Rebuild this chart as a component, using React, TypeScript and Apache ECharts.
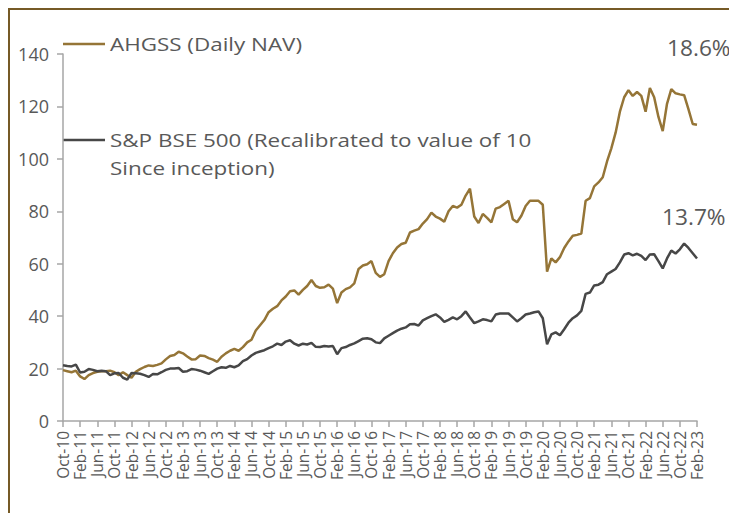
import React, { useEffect, useRef } from "react";
import * as echarts from "echarts";

const startYear = 2010;
const startMonth = 9; // Oct (0-based)
const monthNames = ["Jan", "Feb", "Mar", "Apr", "May", "Jun", "Jul", "Aug", "Sep", "Oct", "Nov", "Dec"];

const ahgss = [
  19.4, 19, 18.6, 19.2, 17, 16, 17.5, 18.3, 18.8, 19, 19, 19.2, 18.6, 17.5, 18.6, 17.5, 16.5, 18.8, 19.8, 20.6,
  21.2, 21, 21.4, 22, 23.5, 24.8, 25.2, 26.4, 25.8, 24.6, 23.5, 23.6, 25, 24.8, 24, 23.4, 22.6, 24.5, 25.8, 26.8,
  27.5, 26.8, 28.2, 30, 31, 34.5, 36.5, 38.5, 41.5, 42.8, 43.8, 46, 47.5, 49.5, 49.8, 48.2, 50, 51.5, 53.8, 51.5,
  50.8, 51, 52, 50.5, 45, 49, 50.3, 51, 52.5, 58, 59.3, 59.8, 61, 56.5, 55, 56, 61, 64, 66.2, 67.5,
  68, 71.9, 72.6, 73.2, 75.3, 77, 79.5, 78, 77.2, 76, 80, 82, 81.4, 82.5, 86, 88.6, 78, 75.5, 79, 77.5,
  75.8, 81, 81.6, 82.8, 84, 77, 75.8, 78.3, 82, 84, 84, 84, 82.5, 57, 62, 60.5, 62.5, 66, 68.5, 70.7,
  71, 71.5, 84, 85, 89.5, 91, 93, 99, 104, 110, 118, 123.5, 126.2, 124, 125.5, 124, 118, 127, 123.5, 116,
  110.6, 121, 126.6, 125, 124.6, 124.3, 119, 113.3, 113,
];

const bse500 = [
  21.3, 21, 20.8, 21.5, 18.5, 18.8, 19.8, 19.5, 19, 19.2, 19, 17.5, 18.2, 18.3, 16.5, 15.8, 18.3, 18.2, 18, 17.5,
  16.8, 17.9, 17.8, 18.6, 19.5, 20, 20, 20.2, 18.8, 19, 19.8, 19.6, 19.2, 18.6, 18, 19, 20, 20.5, 20.3, 21,
  20.5, 21.2, 22.8, 23.6, 25, 26, 26.5, 27, 27.8, 28.5, 29.5, 29, 30.3, 30.8, 29.5, 28.8, 29.5, 29.2, 29.8, 28.3,
  28.2, 28.6, 28.4, 28.6, 25.5, 27.8, 28.2, 29, 29.6, 30.5, 31.4, 31.6, 31.2, 30, 29.7, 31.5, 32.5, 33.5, 34.5, 35.2,
  35.7, 36.9, 37, 36.4, 38.4, 39.2, 40, 40.7, 39.5, 37.8, 38.6, 39.5, 38.8, 40, 41.8, 39.5, 37.3, 38, 38.8, 38.5,
  38, 40.6, 41, 41, 41, 39.5, 38, 39.2, 40.6, 41, 41.5, 41.8, 39.2, 29.3, 33, 33.8, 32.7, 35, 37.5, 39.2,
  40.3, 42, 48.5, 49, 51.7, 52, 53, 56, 57, 58, 60.5, 63.5, 64, 63.2, 63.8, 63, 61.4, 63.5, 63.6, 61,
  58.2, 62, 65, 63.9, 65.5, 67.7, 66, 64, 62,
];

const months: string[] = ahgss.map((_, i) => {
  const m = startMonth + i;
  const y = startYear + Math.floor(m / 12);
  return monthNames[m % 12] + "-" + String(y % 100).padStart(2, "0");
});

const yTicks = [0, 20, 40, 60, 80, 100, 120, 140];
const seriesNames = ["AHGSS (Daily NAV)", "S&P BSE 500 (Recalibrated to value of 10", "Since inception)"];
const cagrLabels = ["18.6%", "13.7%"];

const GOLD = "#957537";
const DARK = "#474747";
const TEXT = "#595959";
const FONT = "'Open Sans', 'DejaVu Sans', sans-serif";

export default function App() {
  const ref = useRef<HTMLDivElement>(null);
  useEffect(() => {
    if (!ref.current) return;
    const chart = echarts.init(ref.current, null, { renderer: "svg" });
    chart.setOption({
      animation: false,
      backgroundColor: "#ffffff",
      textStyle: { fontFamily: FONT },
      grid: { left: 55, right: 40, top: 46, bottom: 92, containLabel: false },
      xAxis: {
        type: "category",
        data: months,
        boundaryGap: false,
        axisLine: { lineStyle: { color: "#a6a6a6", width: 1.5 } },
        axisTick: { interval: 3, length: 6, lineStyle: { color: "#a6a6a6", width: 1.5 } },
        axisLabel: {
          interval: 3,
          rotate: 90,
          margin: 10,
          color: TEXT,
          fontSize: 15.5,
          fontFamily: FONT,
        },
        splitLine: { show: false },
      },
      yAxis: {
        type: "value",
        min: yTicks[0],
        max: yTicks[yTicks.length - 1],
        interval: 20,
        axisLine: { show: true, lineStyle: { color: "#a6a6a6", width: 1.5 } },
        axisTick: { show: true, length: 6, lineStyle: { color: "#a6a6a6", width: 1.5 } },
        axisLabel: { color: TEXT, fontSize: 18, margin: 14, fontFamily: FONT },
        splitLine: { show: false },
      },
      series: [
        {
          name: seriesNames[0],
          type: "line",
          data: ahgss,
          showSymbol: false,
          lineStyle: { color: GOLD, width: 2.5 },
          itemStyle: { color: GOLD },
        },
        {
          name: seriesNames[1] + " " + seriesNames[2],
          type: "line",
          data: bse500,
          showSymbol: false,
          lineStyle: { color: DARK, width: 2.5 },
          itemStyle: { color: DARK },
        },
      ],
      graphic: [
        {
          type: "rect",
          shape: { x: 1, y: 1, width: 900, height: 900 },
          style: { fill: "none", stroke: "#765a26", lineWidth: 2 },
          silent: true,
        },
        {
          type: "line",
          shape: { x1: 55, y1: 36, x2: 97, y2: 36 },
          style: { stroke: GOLD, lineWidth: 2.5 },
        },
        {
          type: "text",
          x: 102,
          y: 36,
          scaleX: 1.18,
          style: { text: seriesNames[0], fill: TEXT, font: "19px " + FONT, verticalAlign: "middle" },
        },
        {
          type: "line",
          shape: { x1: 55, y1: 132, x2: 97, y2: 132 },
          style: { stroke: DARK, lineWidth: 2.5 },
        },
        {
          type: "text",
          x: 102,
          y: 132,
          scaleX: 1.18,
          style: { text: seriesNames[1], fill: TEXT, font: "19px " + FONT, verticalAlign: "middle" },
        },
        {
          type: "text",
          x: 102,
          y: 160,
          scaleX: 1.18,
          style: { text: seriesNames[2], fill: TEXT, font: "19px " + FONT, verticalAlign: "middle" },
        },
        {
          type: "text",
          x: 659,
          y: 40,
          scaleX: 1.08,
          style: { text: cagrLabels[0], fill: TEXT, font: "21px " + FONT, verticalAlign: "middle" },
        },
        {
          type: "text",
          x: 654,
          y: 209,
          scaleX: 1.08,
          style: { text: cagrLabels[1], fill: TEXT, font: "21px " + FONT, verticalAlign: "middle" },
        },
      ],
    });
    return () => chart.dispose();
  }, []);
  return <div ref={ref} style={{ width: 729, height: 505 }} />;
}
